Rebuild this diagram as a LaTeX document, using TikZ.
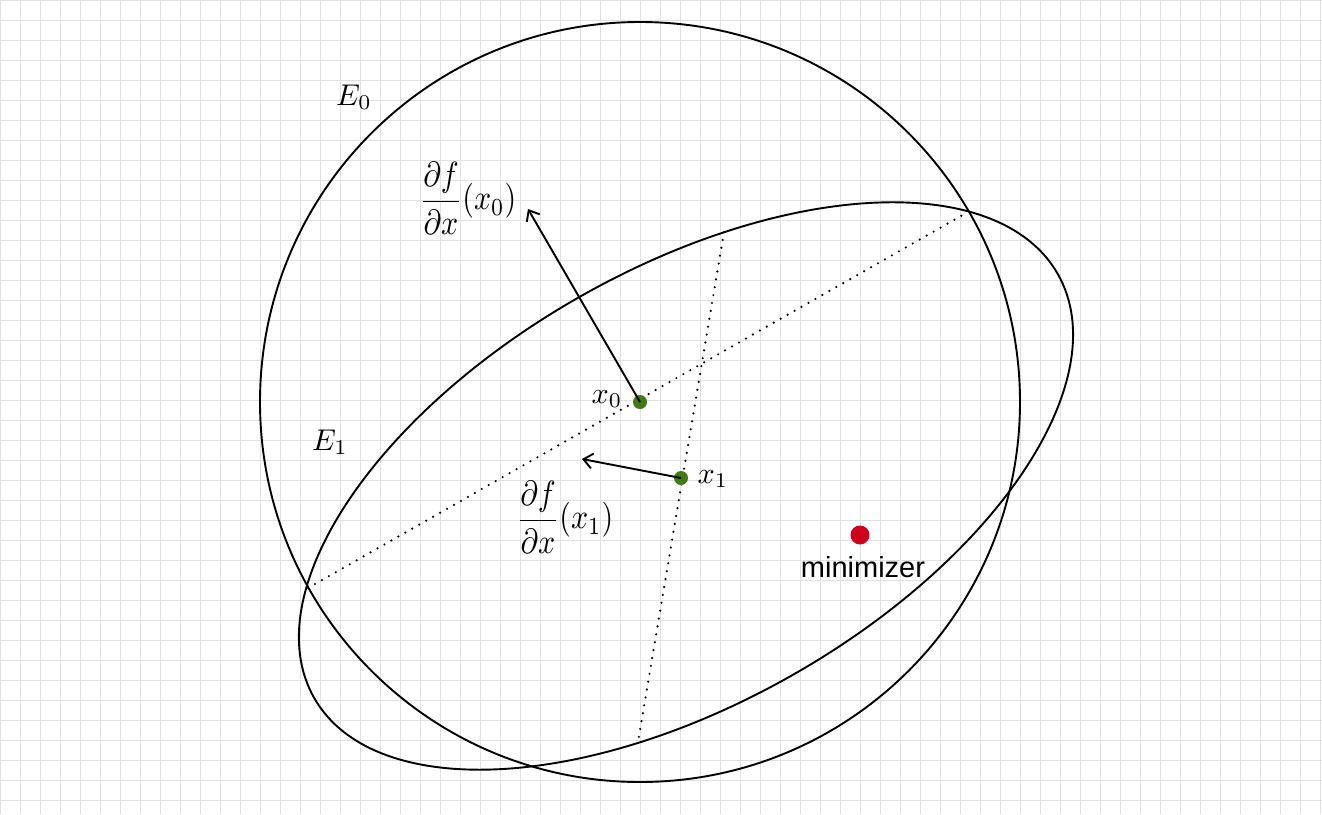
\documentclass[tikz,border=0pt]{standalone}
\usepackage{amsmath}
\usepackage{fontspec}
\setsansfont{Liberation Sans}
\usetikzlibrary{arrows.meta}
\definecolor{ptgreen}{HTML}{407A10}
\definecolor{minred}{HTML}{D0021B}
\definecolor{gridgray}{HTML}{E0E0E0}
\tikzset{
  gridline/.style={draw=gridgray, line width=1pt},
  curve/.style={draw=black, line width=1.9pt},
  axisline/.style={draw=black, line width=2.4pt, dash pattern=on 0pt off 8pt, line cap=round},
  grad/.style={draw=black, line width=1.9pt, -{Straight Barb[length=9pt,width=15pt]}},
  ptdot/.style={circle, fill=ptgreen, inner sep=0pt, minimum size=14pt},
  mindot/.style={circle, fill=minred, inner sep=0pt, minimum size=19pt},
  mathlbl/.style={font=\fontsize{10}{12}\selectfont, inner sep=0pt, scale=3},
  fraclbl/.style={font=\fontsize{10}{12}\selectfont, inner sep=0pt, xscale=3, yscale=3.5},
  textlbl/.style={font=\sffamily\fontsize{29}{34}\selectfont, inner sep=0pt},
}
\begin{document}
\begin{tikzpicture}[x=1pt,y=-1pt]
\useasboundingbox (0,0) rectangle (1322,814);
\fill[white] (0,0) rectangle (1322,814);
\foreach \i in {0,20,...,1320} \draw[gridline] (\i,0) -- (\i,814);
\foreach \j in {0,20,...,800} \draw[gridline] (0,\j) -- (1322,\j);

% ellipsoids
\coordinate (c0) at (640,402);
\coordinate (c1) at (686,486);
\draw[curve] (c0) circle [radius=380pt];
\draw[curve, rotate around={29.7:(c1)}] (c1) ellipse [x radius=428pt, y radius=217pt];

% cutting lines
\coordinate (a1) at (308,588);
\coordinate (a2) at (968,212);
\coordinate (b1) at (724,232);
\coordinate (b2) at (638,742);
\draw[axisline] (a1) -- (a2);
\draw[axisline] (b1) -- (b2);

% points
\node[ptdot] (x0) at (640,402) {};
\node[ptdot] (x1) at (681,478) {};
\node[mindot] (xs) at (860,535) {};

% gradients
\coordinate (g0) at (528,209);
\coordinate (g1) at (582,459);
\draw[grad] (x0.center) -- (g0);
\draw[grad] (x1.center) -- (g1);

% labels
\node[mathlbl] (lE0) at (354,97) {$E_0$};
\node[mathlbl] (lE1) at (330,442) {$E_1$};
\node[mathlbl] (lx0) at (607,399) {$x_0$};
\node[mathlbl] (lx1) at (713,479) {$x_1$};
\node[fraclbl] (lg0) at (468,198) {$\dfrac{\partial f}{\partial x}(x_0)$};
\node[fraclbl] (lg1) at (565,517) {$\dfrac{\partial f}{\partial x}(x_1)$};
\node[textlbl] (lmin) at (863,567) {minimizer};
\end{tikzpicture}
\end{document}
